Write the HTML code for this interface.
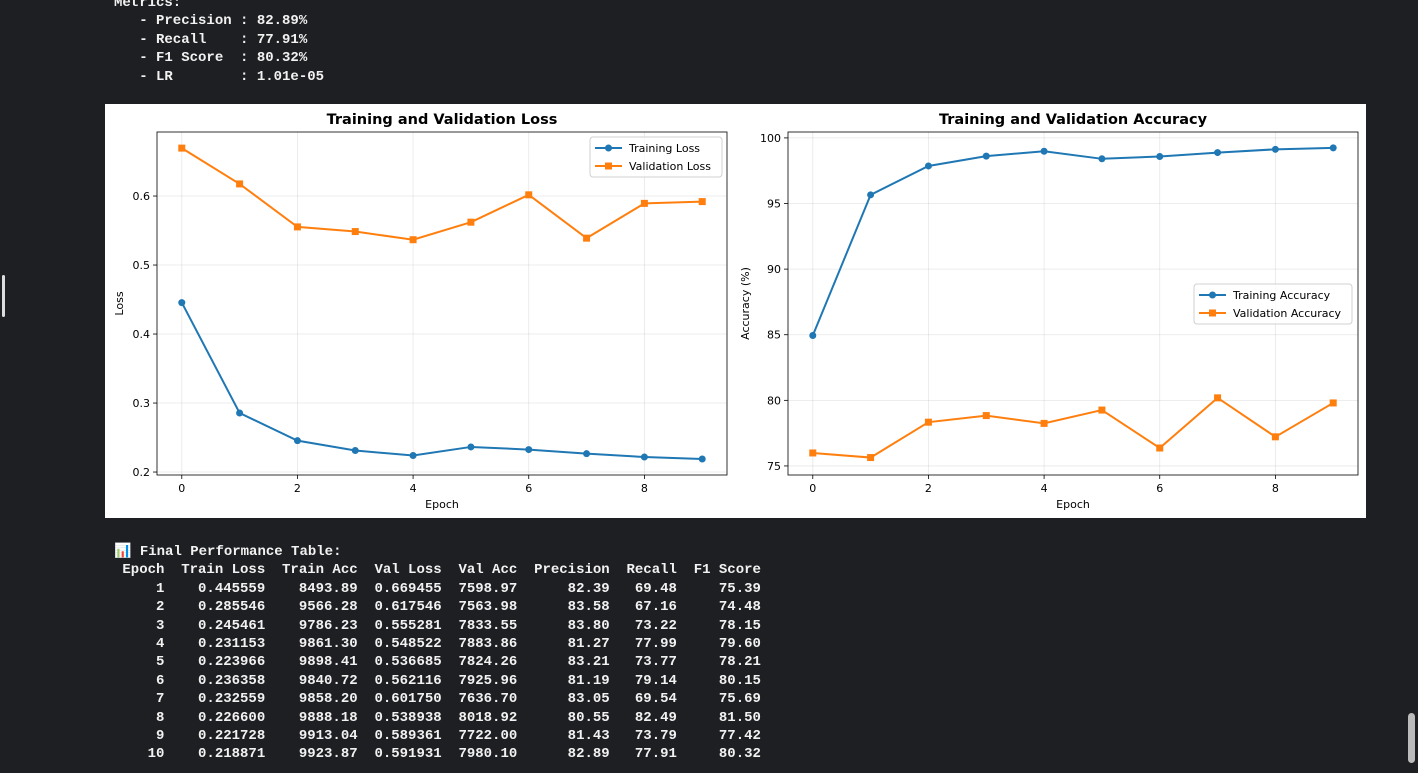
<!DOCTYPE html>
<html><head><meta charset="utf-8">
<style>
html,body{margin:0;padding:0;background:#1e1f22;width:1418px;height:773px;overflow:hidden;position:relative}
pre{margin:0;font-family:"Liberation Mono",monospace;font-size:14px;line-height:18.4px;color:#f2f2f2;font-weight:bold;position:absolute;left:114px;white-space:pre}
#fig{position:absolute;left:105px;top:104px;width:1261px;height:414px;background:#fff}
svg text{font-family:"DejaVu Sans","Liberation Sans",sans-serif;fill:#000}
</style></head><body>
<pre style="top:-6px">Metrics:
   - Precision : 82.89%
   - Recall    : 77.91%
   - F1 Score  : 80.32%
   - LR        : 1.01e-05</pre>
<div id="fig">
<svg id="svg" width="1261" height="414" xmlns="http://www.w3.org/2000/svg"></svg>
</div>
<pre style="top:543px">📊 Final Performance Table:
 Epoch  Train Loss  Train Acc  Val Loss  Val Acc  Precision  Recall  F1 Score
     1    0.445559    8493.89  0.669455  7598.97      82.39   69.48     75.39
     2    0.285546    9566.28  0.617546  7563.98      83.58   67.16     74.48
     3    0.245461    9786.23  0.555281  7833.55      83.80   73.22     78.15
     4    0.231153    9861.30  0.548522  7883.86      81.27   77.99     79.60
     5    0.223966    9898.41  0.536685  7824.26      83.21   73.77     78.21
     6    0.236358    9840.72  0.562116  7925.96      81.19   79.14     80.15
     7    0.232559    9858.20  0.601750  7636.70      83.05   69.54     75.69
     8    0.226600    9888.18  0.538938  8018.92      80.55   82.49     81.50
     9    0.221728    9913.04  0.589361  7722.00      81.43   73.79     77.42
    10    0.218871    9923.87  0.591931  7980.10      82.89   77.91     80.32</pre>
<div style="position:absolute;left:2px;top:275px;width:3px;height:42px;background:#ddd;border-radius:2px"></div>
<div style="position:absolute;left:1408px;top:713px;width:7px;height:50px;background:#bbb;border-radius:4px"></div>
<script>
const epochs=[0,1,2,3,4,5,6,7,8,9];
const trainLoss=[0.445559,0.285546,0.245461,0.231153,0.223966,0.236358,0.232559,0.226600,0.221728,0.218871];
const valLoss=[0.669455,0.617546,0.555281,0.548522,0.536685,0.562116,0.601750,0.538938,0.589361,0.591931];
const trainAcc=[84.9389,95.6628,97.8623,98.6130,98.9841,98.4072,98.5820,98.8818,99.1304,99.2387];
const valAcc=[75.9897,75.6398,78.3355,78.8386,78.2426,79.2596,76.3670,80.1892,77.2200,79.8010];
const xTicks=[0,2,4,6,8];
const lossTicks=[0.2,0.3,0.4,0.5,0.6];
const accTicks=[75,80,85,90,95,100];
const NS="http://www.w3.org/2000/svg";
const svg=document.getElementById('svg');
function el(t,a,p){const e=document.createElementNS(NS,t);for(const k in a)e.setAttribute(k,a[k]);(p||svg).appendChild(e);return e;}
const BLUE="#1f77b4",ORANGE="#ff7f0e";
function axes(o){
  const g=el('g',{});
  
  
  const X=v=>o.x0+(v-o.xmin)*(o.x1-o.x0)/(o.xmax-o.xmin);
  const Y=v=>o.y1-(v-o.ymin)*(o.y1-o.y0)/(o.ymax-o.ymin);
  xTicks.forEach(t=>{el('line',{x1:X(t),x2:X(t),y1:o.y0,y2:o.y1,stroke:'#b0b0b0','stroke-opacity':0.3,'stroke-width':0.8},g);
    el('line',{x1:X(t),x2:X(t),y1:o.y1,y2:o.y1+4,stroke:'#000','stroke-width':0.8},g);
    const tx=el('text',{x:X(t),y:o.y1+17,'font-size':11,'text-anchor':'middle'},g);tx.textContent=t;
    });
  o.yt.forEach(t=>{el('line',{x1:o.x0,x2:o.x1,y1:Y(t),y2:Y(t),stroke:'#b0b0b0','stroke-opacity':0.3,'stroke-width':0.8},g);
    el('line',{x1:o.x0-4,x2:o.x0,y1:Y(t),y2:Y(t),stroke:'#000','stroke-width':0.8},g);
    const tx=el('text',{x:o.x0-7,y:Y(t)+4,'font-size':11,'text-anchor':'end'},g);tx.textContent=o.fmt(t);
    });
  el('rect',{x:o.x0,y:o.y0,width:o.x1-o.x0,height:o.y1-o.y0,fill:'none',stroke:'#000','stroke-width':0.8},g);
  const ti=el('text',{x:(o.x0+o.x1)/2,y:o.y0-8,'font-size':14.5,'font-weight':'bold','text-anchor':'middle'},g);ti.textContent=o.title;
  
  const xl=el('text',{x:(o.x0+o.x1)/2,y:o.y1+33,'font-size':11,'text-anchor':'middle'},g);xl.textContent='Epoch';
  
  const yl=el('text',{x:0,y:0,'font-size':11,'text-anchor':'middle',transform:`translate(${o.ylx},${(o.y0+o.y1)/2}) rotate(-90)`},g);yl.textContent=o.ylabel;
  
  o.series.forEach(s=>{
    const pl=el('polyline',{points:epochs.map((e,i)=>X(e)+','+Y(s.v[i])).join(' '),fill:'none',stroke:s.c,'stroke-width':2},g);
    
    epochs.forEach((e,i)=>{let m;
      if(s.m==='o')m=el('circle',{cx:X(e),cy:Y(s.v[i]),r:3.5,fill:s.c},g);
      else m=el('rect',{x:X(e)-3.5,y:Y(s.v[i])-3.5,width:7,height:7,fill:s.c},g);
      });
  });
  const L=o.leg;
  const lg=el('g',{},g);
  el('rect',{x:L.x,y:L.y,width:L.w,height:40,rx:3,fill:'#fff','fill-opacity':0.8,stroke:'#d0d0d0'},lg);
  o.series.forEach((s,k)=>{const yy=L.y+11+k*18;
    el('line',{x1:L.x+5,x2:L.x+32,y1:yy,y2:yy,stroke:s.c,'stroke-width':2},lg);
    if(s.m==='o')el('circle',{cx:L.x+18.5,cy:yy,r:3.5,fill:s.c},lg);else el('rect',{x:L.x+15,y:yy-3.5,width:7,height:7,fill:s.c},lg);
    const t=el('text',{x:L.x+39,y:yy+4,'font-size':11},lg);t.textContent=s.label;
    });
}
axes({name:'loss-chart',title:'Training and Validation Loss',ylabel:'Loss',x0:52,x1:622,y0:28,y1:371,xmin:-0.4286,xmax:9.4286,ymin:0.1957,ymax:0.6928,yt:lossTicks,fmt:v=>v.toFixed(1),ylx:18,
  leg:{x:485,y:33,w:132},series:[{id:'training-loss',v:trainLoss,c:BLUE,m:'o',label:'Training Loss'},{id:'validation-loss',v:valLoss,c:ORANGE,m:'s',label:'Validation Loss'}]});
axes({name:'accuracy-chart',title:'Training and Validation Accuracy',ylabel:'Accuracy (%)',x0:683,x1:1253,y0:28,y1:371,xmin:-0.4286,xmax:9.4286,ymin:74.31,ymax:100.45,yt:accTicks,fmt:v=>v,ylx:644,
  leg:{x:1089,y:180,w:158},series:[{id:'training-accuracy',v:trainAcc,c:BLUE,m:'o',label:'Training Accuracy'},{id:'validation-accuracy',v:valAcc,c:ORANGE,m:'s',label:'Validation Accuracy'}]});
</script>
</body></html>
